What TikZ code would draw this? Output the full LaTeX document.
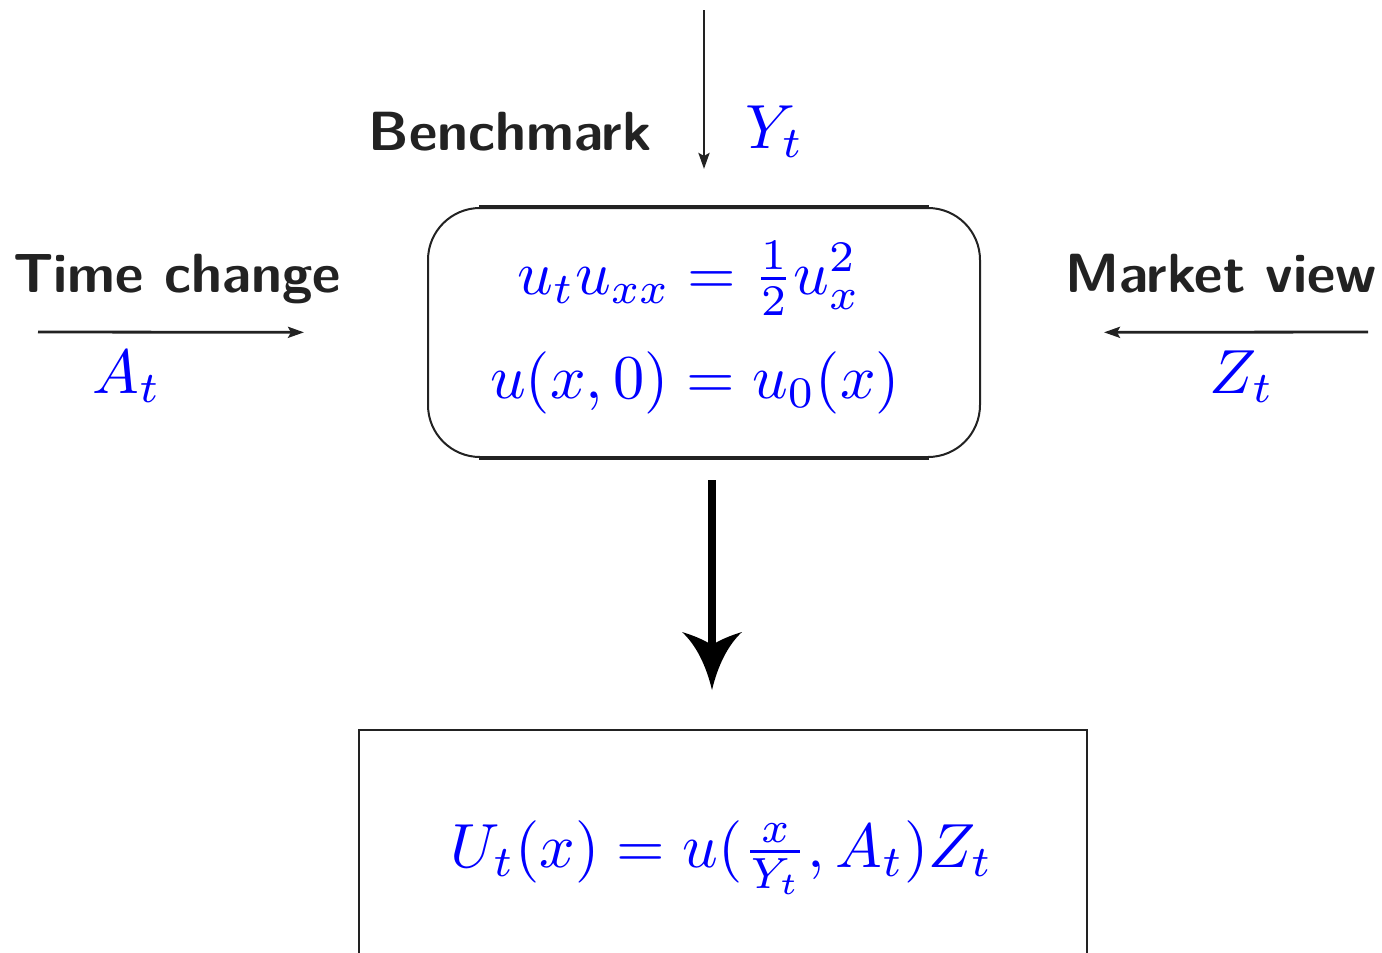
\documentclass[tikz,border=0pt]{standalone}
\usepackage{fix-cm}
\usetikzlibrary{arrows.meta}
\definecolor{eqblue}{RGB}{0,0,255}
\definecolor{ink}{RGB}{34,34,34}
\newcommand{\bigmath}[1]{\scalebox{3.12}{$#1$}}
\begin{document}
\begin{tikzpicture}[x=0.5pt,y=-0.5pt,
  lbl/.style={font=\fontsize{27.6}{32}\selectfont\sffamily\bfseries, text=ink, inner sep=0, anchor=base},
  eq/.style={text=eqblue, inner sep=0, anchor=base},
  thinarrow/.style={draw=ink, line width=1.4pt, -{Stealth[length=8pt,width=5.5pt,inset=1.5pt]}},
  boxline/.style={draw=ink, line width=1pt}
]
\useasboundingbox (0,0) rectangle (1382,953);
\clip (0,0) rectangle (1382,953);

% PDE box
\node[boxline, rounded corners=26pt, minimum width=276pt, minimum height=124.5pt, inner sep=0] (pde) at (704,332.5) {};
\draw[ink, line width=1.6pt] ([xshift=26pt]pde.north west) -- ([xshift=-26pt]pde.north east);
\draw[ink, line width=1.6pt] ([xshift=26pt]pde.south west) -- ([xshift=-26pt]pde.south east);
\node[eq] (eq1) at (689,294) {\bigmath{u_tu_{xx}=\frac{1}{2}u_x^2}};
\node[eq] (eq2) at (695,398) {\bigmath{u(x,0)=u_0(x)}};

% result box (cut at the bottom edge)
\node[boxline, minimum width=364pt, minimum height=120pt, inner sep=0] (res) at (723,850) {};
\node[eq] (eq3) at (722,867) {\bigmath{U_t(x)=u(\frac{x}{Y_t},A_t)Z_t}};

% labels
\node[lbl] (bench) at (510,150) {Benchmark};
\node[eq] (Y) at (775,148) {\bigmath{Y_t}};
\node[lbl] (time) at (177,292) {Time change};
\node[eq] (A) at (127,393) {\bigmath{A_t}};
\node[lbl] (market) at (1221,292) {Market view};
\node[eq] (Z) at (1242,393) {\bigmath{Z_t}};

% thin arrows
\coordinate (ytop) at (704,10);
\coordinate (aleft) at (38,332);
\coordinate (zright) at (1368,332);
\draw[thinarrow, shorten >=19pt] (ytop) -- (pde.north);
\draw[thinarrow, shorten >=61.5pt] (aleft) -- (pde.west);
\draw[thinarrow, shorten >=61.5pt] (zright) -- (pde.east);

% big arrow
\coordinate (bt) at (712,480);
\coordinate (bh) at (712,690);
\draw[line width=4pt, draw=black] (bt) -- ([yshift=22pt]bh);
\fill[black, shift={(bh)}] (0,0) .. controls (-6,-25) and (-16,-45) .. (-30,-58)
  .. controls (-17,-54) and (-8,-50) .. (0,-45)
  .. controls (8,-50) and (17,-54) .. (30,-58)
  .. controls (16,-45) and (6,-25) .. (0,0) -- cycle;
\end{tikzpicture}
\end{document}
